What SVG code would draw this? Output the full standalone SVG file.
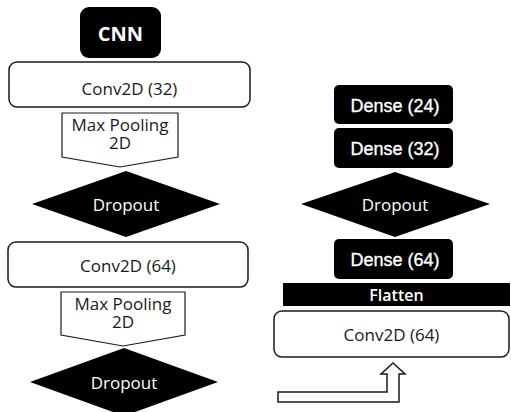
<svg xmlns="http://www.w3.org/2000/svg" width="511" height="412" viewBox="0 0 511 412">
  <style>
    .bg { fill: #ffffff; }
    .layer { fill: #ffffff; stroke: #1a1a1a; stroke-width: 1.5; }
    .pool { fill: #ffffff; stroke: #1a1a1a; stroke-width: 1.2; }
    .dark { fill: #000000; }
    .lbl { font-family: "Open Sans", "DejaVu Sans", sans-serif; font-size: 17px; fill: #1a1a1a; text-anchor: middle; dominant-baseline: central; }
    .pl { font-family: "Open Sans", "DejaVu Sans", sans-serif; font-size: 17px; fill: #1a1a1a; text-anchor: middle; }
    .lbl-w { font-family: "Open Sans", "DejaVu Sans", sans-serif; font-size: 17px; fill: #ffffff; text-anchor: middle; dominant-baseline: central; }
    .dense { font-family: "Liberation Sans", Arial, sans-serif; font-size: 18px; fill: #ffffff; stroke: #ffffff; stroke-width: 0.35; text-anchor: middle; }
    .title { font-family: "Open Sans", "DejaVu Sans", sans-serif; font-size: 20px; font-weight: bold; fill: #ffffff; text-anchor: middle; dominant-baseline: central; }
    .flat { font-family: "Open Sans", "DejaVu Sans", sans-serif; font-size: 16px; font-weight: 600; fill: #ffffff; text-anchor: middle; dominant-baseline: central; }
    .conn { fill: #ffffff; stroke: #1a1a1a; stroke-width: 1.5; stroke-linejoin: miter; }
  </style>

  <rect class="bg" x="0" y="0" width="511" height="412"/>

  <!-- left column: convolutional stack -->
  <g id="cnn-title">
    <rect class="dark" x="80" y="7" width="81" height="51" rx="9"/>
    <text class="title" x="120.5" y="33">CNN</text>
  </g>

  <g id="conv2d-32">
    <rect class="layer" x="9" y="62" width="241" height="45" rx="8"/>
    <text class="lbl" x="129.5" y="88">Conv2D (32)</text>
  </g>

  <g id="maxpool-1">
    <polygon class="pool" points="62,113 178,113 178,157 120,167 62,157"/>
    <text class="pl" x="120" y="130.5">Max Pooling</text>
    <text class="pl" x="120" y="148.5">2D</text>
  </g>

  <g id="dropout-1">
    <polygon class="dark" points="126,171 220,204 126,237 32,204"/>
    <text class="lbl-w" x="126" y="204">Dropout</text>
  </g>

  <g id="conv2d-64-a">
    <rect class="layer" x="8" y="242" width="240" height="45" rx="8"/>
    <text class="lbl" x="128" y="265">Conv2D (64)</text>
  </g>

  <g id="maxpool-2">
    <polygon class="pool" points="61,292 185,292 185,335 123,346 61,335"/>
    <text class="pl" x="123" y="310">Max Pooling</text>
    <text class="pl" x="123" y="328">2D</text>
  </g>

  <g id="dropout-2">
    <polygon class="dark" points="124,348 218,382 124,416 30,382"/>
    <text class="lbl-w" x="124" y="382">Dropout</text>
  </g>

  <!-- right column: dense head -->
  <g id="dense-24">
    <rect class="dark" x="334" y="85" width="119" height="39" rx="5"/>
    <text class="dense" x="395" y="112">Dense (24)</text>
  </g>

  <g id="dense-32">
    <rect class="dark" x="334" y="128" width="119" height="40" rx="5"/>
    <text class="dense" x="395" y="155">Dense (32)</text>
  </g>

  <g id="dropout-3">
    <polygon class="dark" points="395,172 490,204 395,237 301,204"/>
    <text class="lbl-w" x="395" y="204">Dropout</text>
  </g>

  <g id="dense-64">
    <rect class="dark" x="334" y="239" width="119" height="40" rx="5"/>
    <text class="dense" x="395" y="266">Dense (64)</text>
  </g>

  <g id="flatten">
    <rect class="dark" x="283" y="283" width="227" height="23"/>
    <text class="flat" x="396.5" y="294.5">Flatten</text>
  </g>

  <g id="conv2d-64-b">
    <rect class="layer" x="274" y="311" width="235" height="46" rx="8"/>
    <text class="lbl" x="391.5" y="334">Conv2D (64)</text>
  </g>

  <!-- connectors -->
  <g id="connectors">
    <polygon class="conn" points="278,392 387,392 387,374 381,374 393,363 405,374 399,374 399,402 278,402"/>
  </g>
</svg>
